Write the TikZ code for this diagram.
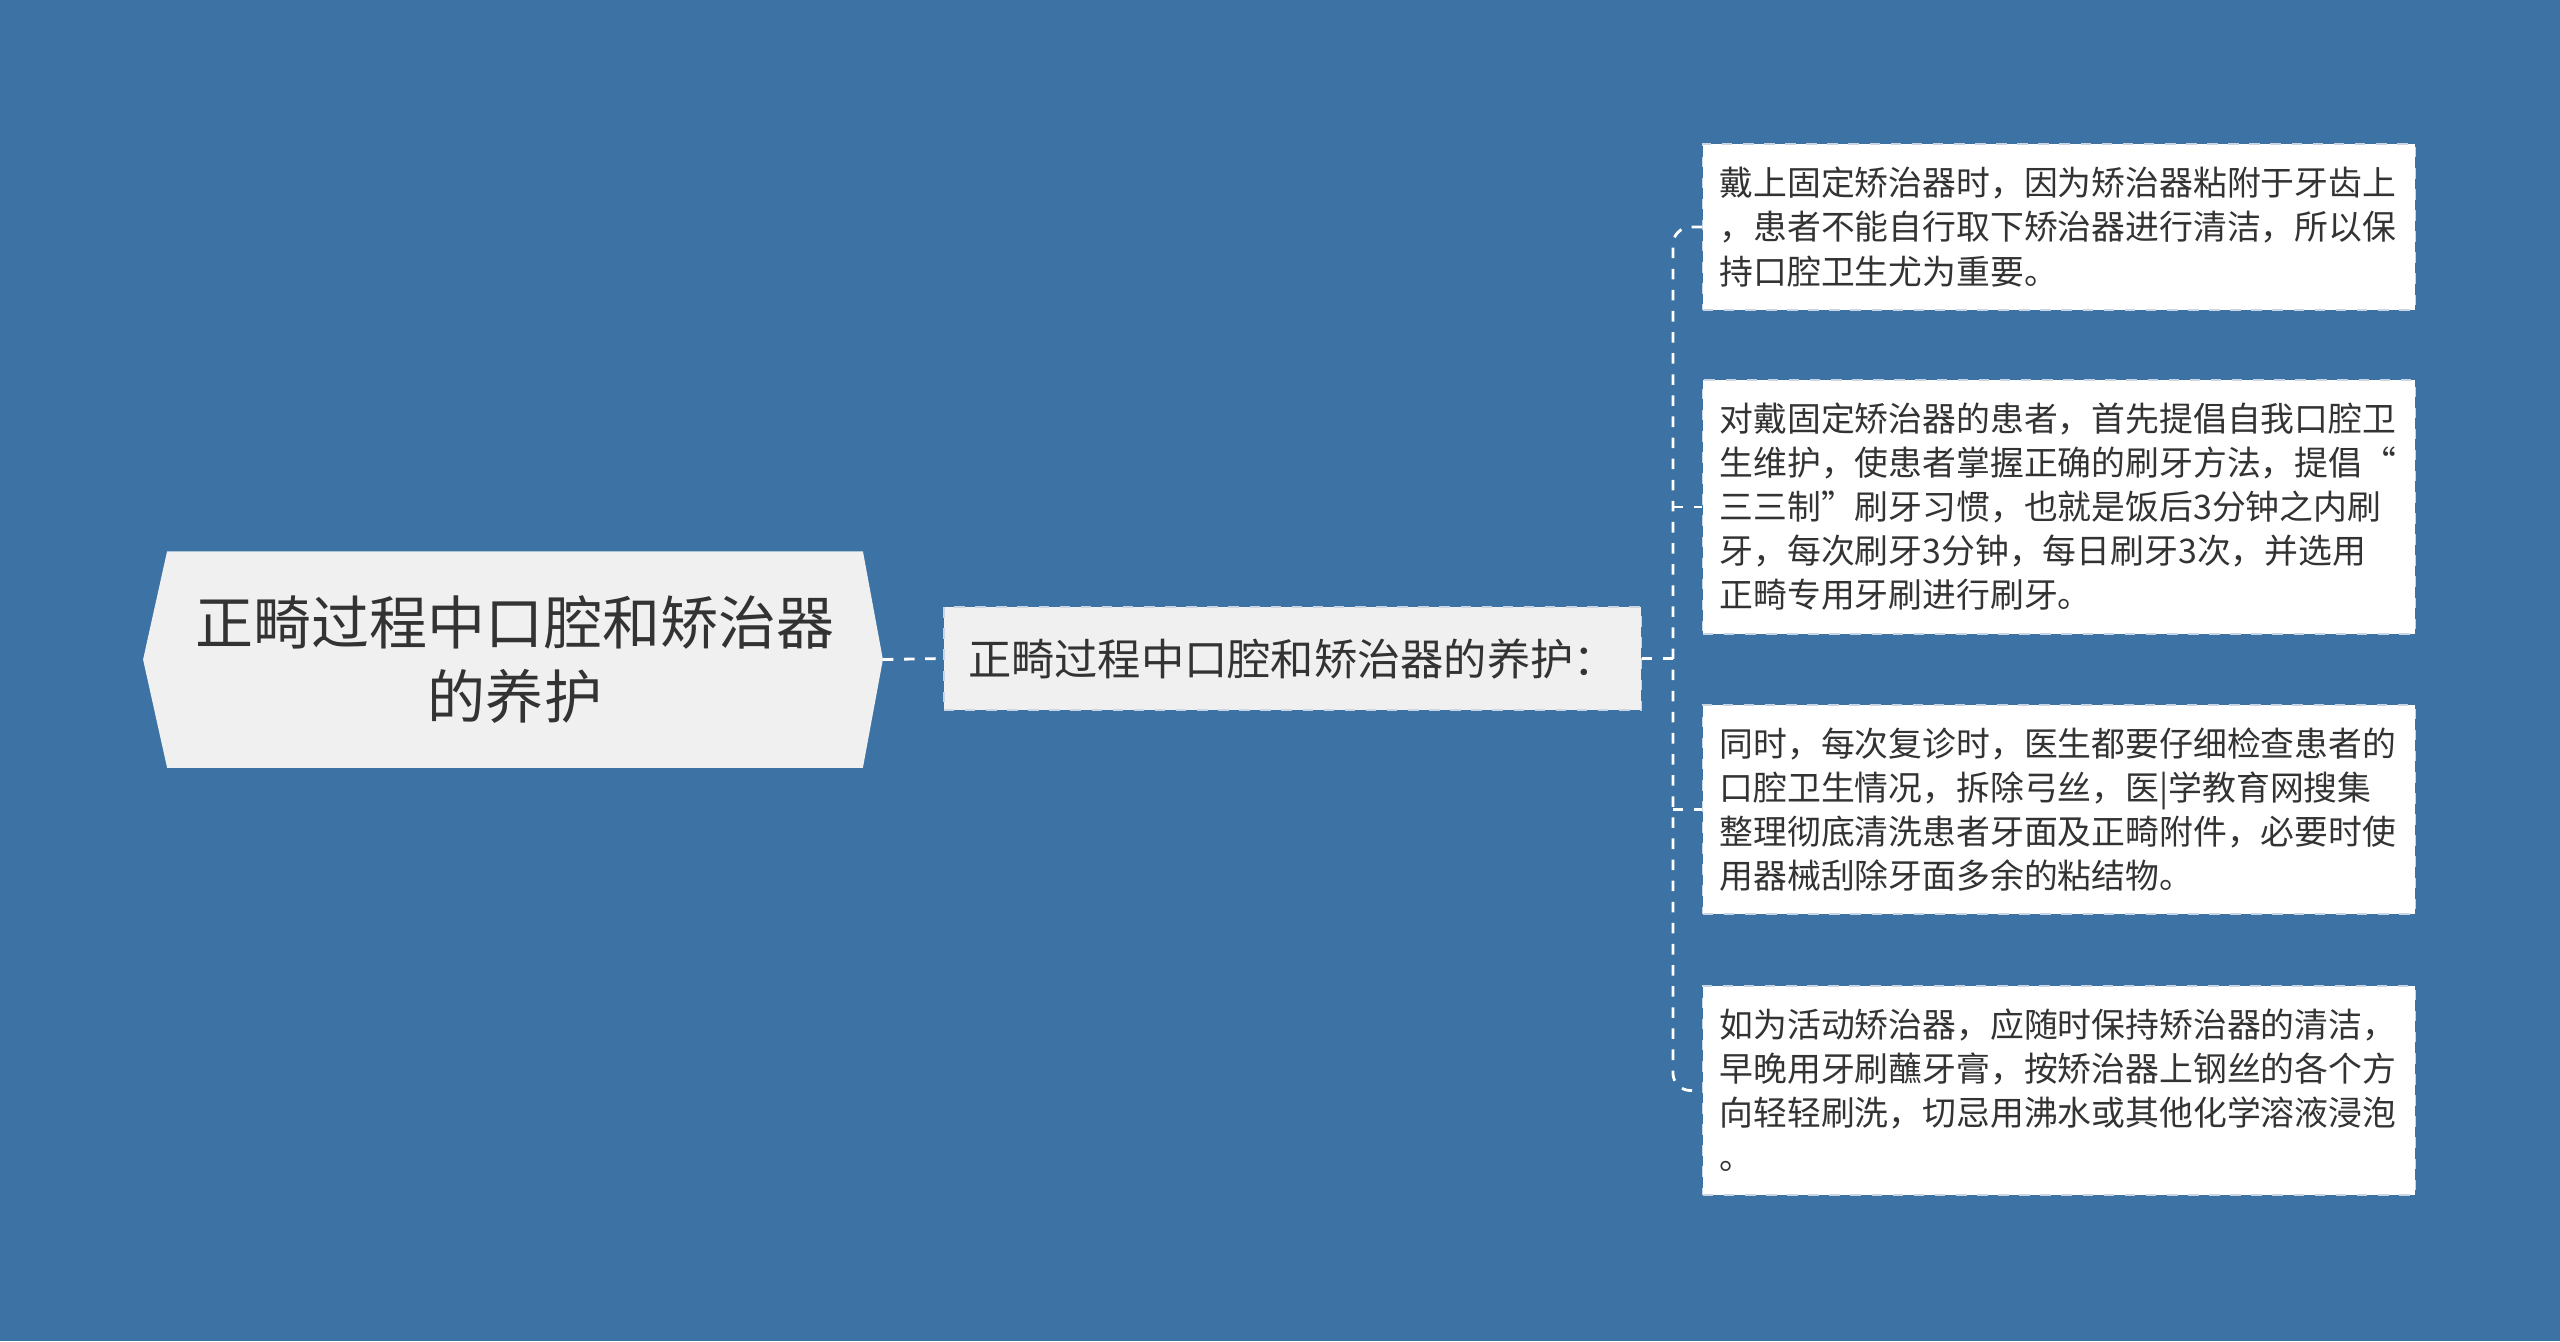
\documentclass[tikz,border=0pt]{standalone}
\usepackage{fontspec}
\setmainfont{Noto Sans CJK SC}
\usetikzlibrary{positioning,backgrounds}
\definecolor{bgblue}{HTML}{3D72A5}
\definecolor{nodegray}{HTML}{F0F0F0}
\definecolor{textgray}{HTML}{333333}
\definecolor{edgegray}{HTML}{C9D5E2}

\begin{document}
\begin{tikzpicture}[x=0.01cm, y=-0.01cm,
    root/.style={minimum width=6.94cm, minimum height=2.15cm, inner sep=0pt,
      align=center, text=textgray, font=\fontsize{16.5}{20.9}\selectfont},
    topic/.style={draw=edgegray, dashed, fill=nodegray, minimum width=6.97cm,
      minimum height=1.03cm, inner sep=0pt, text=textgray,
      font=\fontsize{12.3}{14}\selectfont},
    leaf/.style={draw=edgegray, dashed, fill=white, text width=193pt,
      inner xsep=4.8pt, inner ysep=0pt, align=left, text=textgray,
      font=\fontsize{9.62}{12.52}\selectfont},
    link/.style={draw=white, dashed, line width=0.8pt, rounded corners=5pt}]

  \useasboundingbox (0,0) rectangle (2560,1341);

  \node[root] (care) at (515,659.5) {正畸过程中口腔和矫治器\\的养护};
  \node[topic] (tips) at (1292.5,658.5) {正畸过程中口腔和矫治器的养护：};

  \node[leaf, minimum height=1.66cm] (fixed) at (2059,227)
    {戴上固定矫治器时，因为矫治器粘附于牙齿上\\，患者不能自行取下矫治器进行清洁，所以保\\持口腔卫生尤为重要。};
  \node[leaf, minimum height=2.54cm] (brush) at (2059,507)
    {对戴固定矫治器的患者，首先提倡自我口腔卫\\生维护，使患者掌握正确的刷牙方法，提倡“\\三三制”刷牙习惯，也就是饭后3分钟之内刷\\牙，每次刷牙3分钟，每日刷牙3次，并选用\\正畸专用牙刷进行刷牙。};
  \node[leaf, minimum height=2.09cm] (visit) at (2059,809.5)
    {同时，每次复诊时，医生都要仔细检查患者的\\口腔卫生情况，拆除弓丝，医|学教育网搜集\\整理彻底清洗患者牙面及正畸附件，必要时使\\用器械刮除牙面多余的粘结物。};
  \node[leaf, minimum height=2.09cm] (remov) at (2059,1090.5)
    {如为活动矫治器，应随时保持矫治器的清洁，\\早晚用牙刷蘸牙膏，按矫治器上钢丝的各个方\\向轻轻刷洗，切忌用沸水或其他化学溶液浸泡\\。};

  \begin{scope}[on background layer]
    \fill[bgblue] (0,0) rectangle (2560,1341);
    \fill[nodegray] (care.north west) -- (care.north east) -- ([xshift=0.2cm]care.east)
      -- (care.south east) -- (care.south west) -- ([xshift=-0.24cm]care.west) -- cycle;
  \end{scope}

  \coordinate (bus) at ([xshift=0.31cm]tips.east);
  \draw[link] ([xshift=0.2cm]care.east) -- (tips.west);
  \draw[link] (tips.east) -- (bus);
  \draw[link] (fixed.west) -| (bus) |- (remov.west);
  \foreach \n in {brush,visit}
    \draw[link] (bus |- \n.west) -- (\n.west);
\end{tikzpicture}
\end{document}
